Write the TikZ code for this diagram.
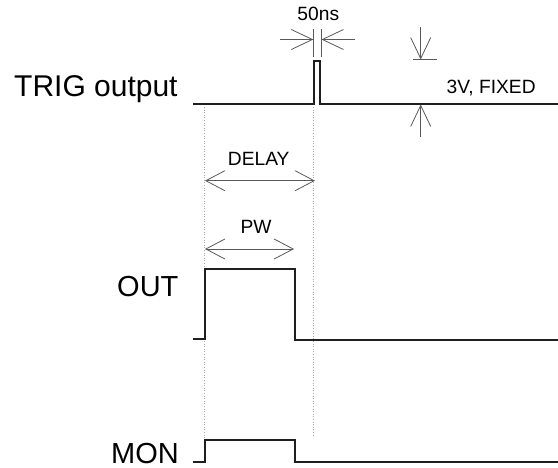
\documentclass[tikz,border=0pt]{standalone}
\usepackage{fontspec}
\setmainfont{Liberation Sans}
\usetikzlibrary{arrows.meta}
\tikzset{
  sig/.style={line width=2pt, draw=black!88, line join=miter},
  dim/.style={line width=0.8pt, draw=black!65},
  dimarr/.style={dim, -{Straight Barb[length=21pt,width=20pt]}},
  dimarrs/.style={dim, {Straight Barb[length=19pt,width=20pt]}-{Straight Barb[length=19pt,width=20pt]}},
  guide/.style={line width=0.6pt, draw=black!35, dotted},
  big/.style={inner sep=0, anchor=base west, font=\fontsize{29}{34}\selectfont},
  small/.style={inner sep=0, font=\fontsize{19.2}{23}\selectfont},
}
\begin{document}
\begin{tikzpicture}[x=1pt,y=-1pt]
\useasboundingbox (0,0) rectangle (558,467);

% labels
\node[big, font=\fontsize{30}{36}\selectfont] (trig) at (14,96.7) {TRIG output};
\node[big] (out) at (117,296.7) {OUT};
\node[big] (mon) at (111,463) {MON};

% guide lines
\coordinate (g1t) at (204.5,107);
\coordinate (g1b) at (204.5,439);
\coordinate (g2t) at (313.5,107);
\coordinate (g2b) at (313.5,437);
\draw[guide] (g1t) -- (g1b);
\draw[guide] (g2t) -- (g2b);

% TRIG signal
\draw[sig] (193,103.5) -- (314.3,103.5) -- (314.3,60.5) -- (320,60.5) -- (320,103.5) -- (558,103.5);

% OUT signal
\draw[sig] (193,339) -- (205,339) -- (205,268.5) -- (294.5,268.5) -- (294.5,339.5) -- (558,339.5);

% MON signal
\draw[sig] (193,461.5) -- (205,461.5) -- (205,439.5) -- (294.5,439.5) -- (294.5,461.5) -- (558,461.5);

% 50ns dimension
\coordinate (t1a) at (313.3,29);
\coordinate (t1b) at (313.3,57);
\coordinate (t2a) at (321.5,29);
\coordinate (t2b) at (321.5,57);
\draw[dim] (t1a) -- (t1b);
\draw[dim] (t2a) -- (t2b);
\coordinate (a1s) at (280,39.5);
\coordinate (a1e) at (313.3,39.5);
\coordinate (a2s) at (355,39.5);
\coordinate (a2e) at (321.5,39.5);
\draw[dimarr] (a1s) -- (a1e);
\draw[dimarr] (a2s) -- (a2e);
\node[small, anchor=base] (ns) at (318.3,20) {50ns};

% 3V dimension
\coordinate (v1s) at (420.7,27);
\coordinate (v1e) at (420.7,59.5);
\coordinate (b1) at (413,59.5);
\coordinate (b2) at (437,59.5);
\draw[dimarr] (v1s) -- (v1e);
\draw[dim] (b1) -- (b2);
\coordinate (v2s) at (420.7,137);
\coordinate (v2e) at (420.7,104.5);
\draw[dimarr] (v2s) -- (v2e);
\node[small, anchor=base west] (fix) at (446.5,93) {3V, FIXED};

% DELAY
\coordinate (d1) at (205,180.7);
\coordinate (d2) at (315,180.7);
\draw[dimarrs] (d1) -- (d2);
\node[small, anchor=base] (delay) at (258.7,165.7) {DELAY};

% PW
\coordinate (p1) at (205,249);
\coordinate (p2) at (294,249);
\draw[dimarrs] (p1) -- (p2);
\node[small, anchor=base] (pw) at (256,233) {PW};
\end{tikzpicture}
\end{document}
